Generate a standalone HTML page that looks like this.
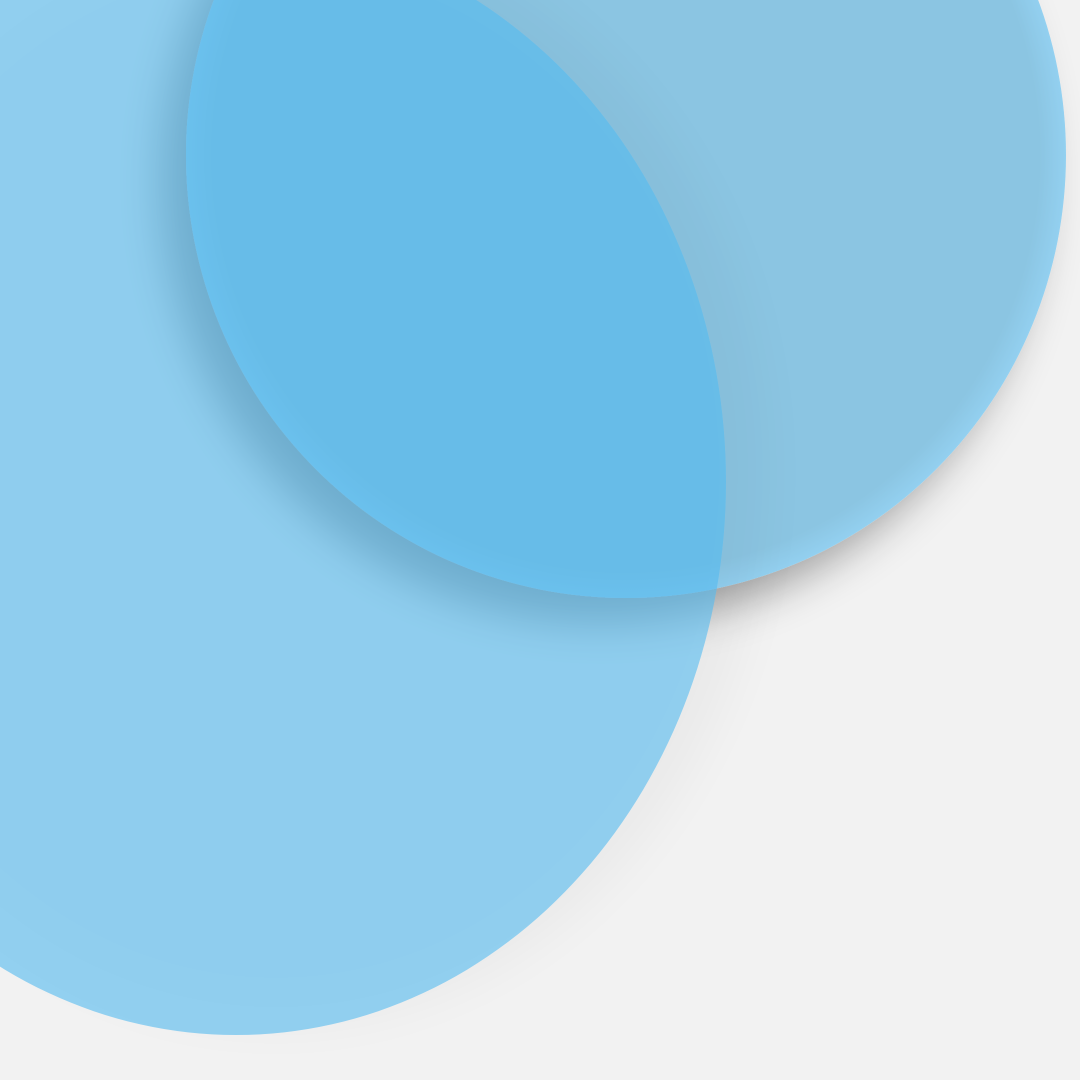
<!DOCTYPE html>
<html>
<head>
<meta charset="utf-8">
<style>
html,body{margin:0;padding:0;background:#f2f2f2;}
svg{display:block;}
</style>
</head>
<body>
<svg width="1080" height="1080" viewBox="0 0 1080 1080">
  <defs>
    <filter id="sh1" x="-30%" y="-30%" width="160%" height="160%">
      <feGaussianBlur in="SourceAlpha" stdDeviation="22"/>
      <feOffset dx="-25" dy="25" result="b"/>
      <feComponentTransfer><feFuncA type="linear" slope="0.35"/></feComponentTransfer>
      <feMerge><feMergeNode/><feMergeNode in="SourceGraphic"/></feMerge>
    </filter>
    <filter id="sh2" x="-30%" y="-30%" width="160%" height="160%">
      <feGaussianBlur in="SourceAlpha" stdDeviation="25"/>
      <feOffset dx="40" dy="-10" result="b"/>
      <feComponentTransfer><feFuncA type="linear" slope="0.06"/></feComponentTransfer>
      <feMerge><feMergeNode/><feMergeNode in="SourceGraphic"/></feMerge>
    </filter>
    <radialGradient id="rim" cx="0.5" cy="0.5" r="0.5">
      <stop offset="0.94" stop-color="#8bc5e2"/>
      <stop offset="1" stop-color="#93d0f0"/>
    </radialGradient>
  </defs>
  <rect width="1080" height="1080" fill="#f2f2f2"/>
  <ellipse cx="626" cy="155" rx="440" ry="443" fill="url(#rim)" filter="url(#sh1)"/>
  <ellipse cx="236" cy="482" rx="490" ry="553" fill="rgba(84,185,239,0.6)" filter="url(#sh2)"/>
</svg>
</body>
</html>
